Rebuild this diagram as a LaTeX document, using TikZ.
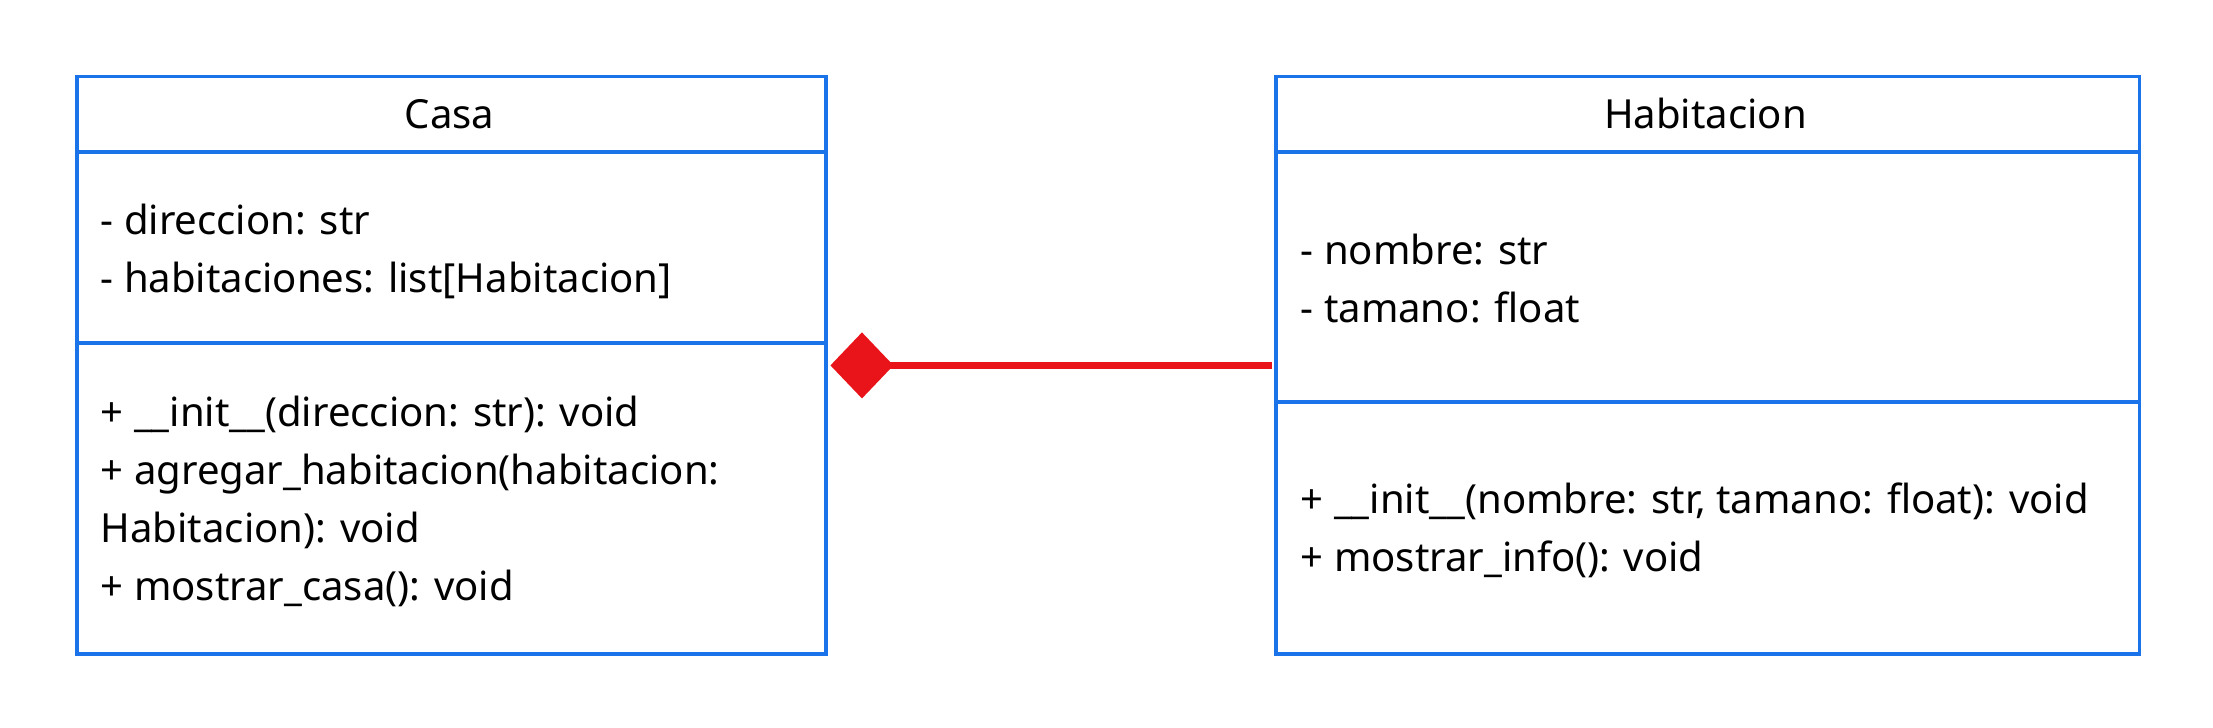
\documentclass[tikz,border=0pt]{standalone}
\usepackage{fontspec}
\setmainfont{Noto Sans}
\usetikzlibrary{arrows.meta}

\definecolor{umlblue}{HTML}{1A73E8}
\definecolor{umlred}{HTML}{E8141A}
\newcommand{\umlfont}{\fontsize{11.4pt}{13.5pt}\selectfont}

\begin{document}
\begin{tikzpicture}[x=0.01cm, y=-0.01cm,
    classbox/.style={draw=umlblue, line width=0.035cm, minimum height=5.77cm, inner sep=0pt, anchor=north west},
    divider/.style={draw=umlblue, line width=0.035cm},
    title/.style={anchor=base, inner sep=0pt, font=\umlfont},
    member/.style={anchor=base west, inner sep=0pt, font=\umlfont},
    comp/.style={draw=umlred, line width=0.075cm, {Diamond[length=0.63cm, width=0.66cm, line width=0pt]}-, shorten <=0.025cm, shorten >=0.018cm}]
        \useasboundingbox (0,0) rectangle (2213,728);

        % class boxes
        \node[classbox, minimum width=7.49cm] (casa) at (75,75) {};
        \node[classbox, minimum width=8.63cm] (hab) at (1274,75) {};

        % compartments
        \draw[divider] (casa.west |- 0,152) -- (casa.east |- 0,152);
        \draw[divider] (casa.west |- 0,343) -- (casa.east |- 0,343);
        \draw[divider] (hab.west |- 0,152) -- (hab.east |- 0,152);
        \draw[divider] (hab.west |- 0,402) -- (hab.east |- 0,402);

        % Casa
        \node[title] (casaname) at (449.5,128.5) {Casa};
        \foreach \txt [count=\i] in {- direccion: str, - habitaciones: list[Habitacion]}
                \node[member] (casaattr\i) at (100,{235+58*(\i-1)}) {\txt};
        \foreach \txt [count=\i] in {+ \_\_init\_\_(direccion: str): void, + agregar\_habitacion(habitacion:, Habitacion): void, + mostrar\_casa(): void}
                \node[member] (casaop\i) at (100,{426.5+58*(\i-1)}) {\txt};

        % Habitacion
        \node[title] (habname) at (1705.5,129) {Habitacion};
        \foreach \txt [count=\i] in {- nombre: str, - tamano: float}
                \node[member] (habattr\i) at (1300,{265+57.5*(\i-1)}) {\txt};
        \foreach \txt [count=\i] in {{+ \_\_init\_\_(nombre: str, tamano: float): void}, + mostrar\_info(): void}
                \node[member] (habop\i) at (1300,{514+57.5*(\i-1)}) {\txt};

        % composition
        \draw[comp] (casa.east) -- (hab.west |- casa.east);
\end{tikzpicture}
\end{document}
